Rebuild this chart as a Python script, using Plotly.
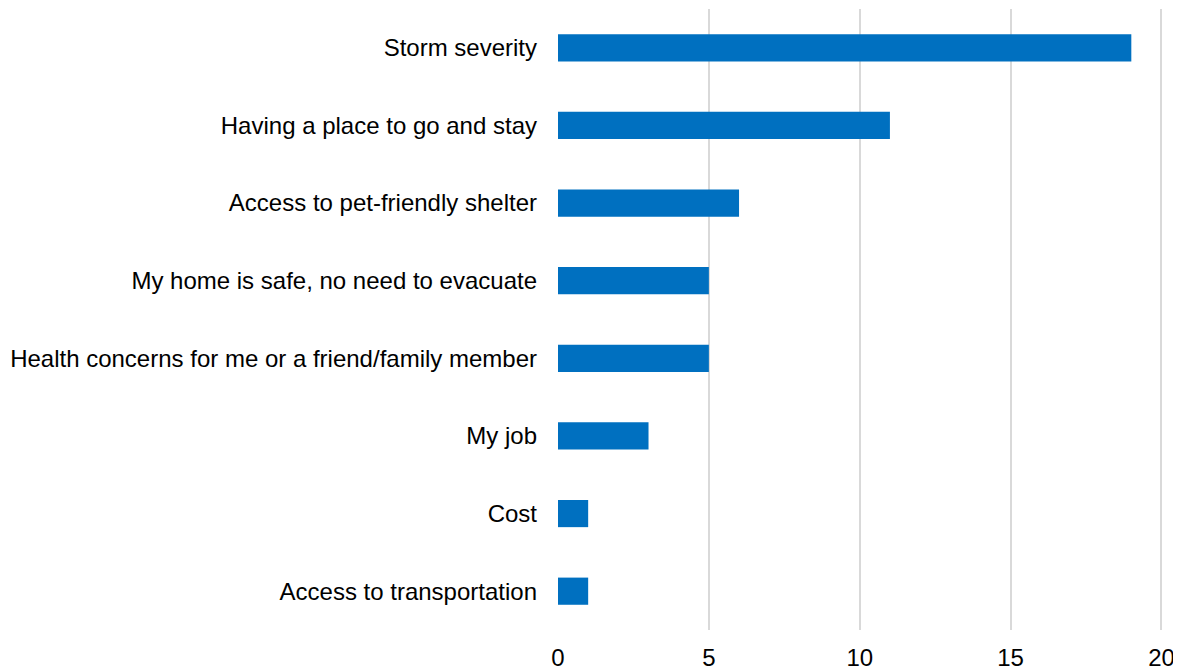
import plotly.graph_objects as go

categories = [
    "Storm severity",
    "Having a place to go and stay",
    "Access to pet-friendly shelter",
    "My home is safe, no need to evacuate",
    "Health concerns for me or a friend/family member",
    "My job",
    "Cost",
    "Access to transportation",
]
values = [19, 11, 6, 5, 5, 3, 1, 1]
x_ticks = [0, 5, 10, 15, 20]

fig = go.Figure(
    go.Bar(
        x=values,
        y=categories,
        orientation="h",
        marker=dict(color="#0070C0", line=dict(width=0)),
    )
)

fig.update_layout(
    width=1173,
    height=662,
    margin=dict(l=550, r=18, t=1, b=40),
    plot_bgcolor="white",
    paper_bgcolor="white",
    bargap=0.65,
    showlegend=False,
    font=dict(family="Liberation Sans, Arial, sans-serif", size=24, color="#000000"),
)
fig.update_xaxes(
    range=[0, 20.05],
    tickvals=x_ticks,
    showgrid=True,
    gridcolor="#d9d9d9",
    gridwidth=2,
    zeroline=False,
    showline=False,
    ticks="",
    ticklabelstandoff=11,
    tickfont=dict(size=24),
    automargin=False,
)
fig.update_yaxes(
    categoryorder="array",
    categoryarray=categories[::-1],
    showgrid=False,
    zeroline=False,
    showline=False,
    ticks="",
    ticklabelstandoff=20,
    tickfont=dict(size=24),
    automargin=False,
)

fig.write_html("out.html")
